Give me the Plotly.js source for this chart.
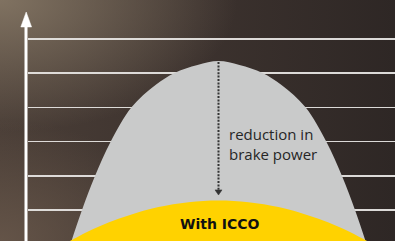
<!DOCTYPE html>
<html><head><meta charset="utf-8">
<script src="https://cdn.plot.ly/plotly-3.0.1.min.js"></script>
<style>
html,body{margin:0;padding:0;background:#3a302c;}
#chart{width:395px;height:241px;
background:
 radial-gradient(ellipse 60% 55% at 0% 0%, rgba(128,114,97,1) 0%, rgba(128,114,97,0) 100%),
 radial-gradient(ellipse 45% 50% at 0% 100%, rgba(100,84,72,1) 0%, rgba(100,84,72,0) 100%),
 linear-gradient(to right, #4a3e37 0%, #3c322e 50%, #2e2725 100%);
}
</style></head><body><div id="chart"></div>
<script>
// Half-widths from the peak and levels in grid units
const grayHalfWidth   = [0, 21, 44, 63, 87, 108, 123.5, 136.5, 147, 153];
const grayLevel       = [5.357, 5.240, 5.006, 4.655, 4.003, 2.988, 1.994, 1.0, 0.094, -0.462];
const yellowHalfWidth = [0, 30, 60, 80, 100, 120, 140, 150, 165];
const yellowLevel     = [1.278, 1.228, 1.088, 0.936, 0.743, 0.509, 0.228, 0.073, -0.170];
const gridTicks = [1, 2, 3, 4, 5, 6];
const labelReduction = 'reduction in<br>brake power';
const labelWith = 'With ICCO';

function mirror(h, v){
  const xs = [], ys = [];
  for (let i = h.length - 1; i >= 0; i--) { xs.push(-h[i]); ys.push(v[i]); }
  for (let i = 1; i < h.length; i++) { xs.push(h[i]); ys.push(v[i]); }
  return {x: xs, y: ys};
}
const g = mirror(grayHalfWidth, grayLevel);
const yv = mirror(yellowHalfWidth, yellowLevel);
const grayPeak = Math.max(...grayLevel);
const yellowPeak = Math.max(...yellowLevel);
const tipY = yellowPeak + 0.16;
const headH = 0.15;

const W = 395, H = 241, M = {l:28, r:0, t:26, b:0};
const pw = W - M.l - M.r, ph = H - M.t - M.b;
const px = x => (x - M.l) / pw;
const py = y => (H - M.b - y) / ph;

const traces = [
  {x: g.x, y: g.y, mode: 'lines', fill: 'toself', fillcolor: '#c9caca',
   line: {color: '#c9caca', width: 0, shape: 'spline', smoothing: 1}, hoverinfo: 'skip'},
  {x: yv.x, y: yv.y, mode: 'lines', fill: 'toself', fillcolor: '#ffd200',
   line: {color: '#ffd200', width: 0, shape: 'spline', smoothing: 1}, hoverinfo: 'skip'},
  {x: [0, 0], y: [grayPeak - 0.03, tipY + headH], mode: 'lines',
   line: {color: '#333333', width: 2, dash: '2px,1.4px'}, hoverinfo: 'skip'},
  {x: [-3.5, 3.5, 0, -3.5], y: [tipY + headH, tipY + headH, tipY, tipY + headH], mode: 'lines',
   fill: 'toself', fillcolor: '#333333', line: {color: '#333333', width: 0.5}, hoverinfo: 'skip'}
];

const layout = {
  width: W, height: H, margin: M,
  paper_bgcolor: 'rgba(0,0,0,0)', plot_bgcolor: 'rgba(0,0,0,0)',
  showlegend: false,
  xaxis: {range: [M.l - 218.5, W - 218.5], showgrid: false, zeroline: false, showticklabels: false, ticks: '', fixedrange: true},
  yaxis: {range: [(244.2 - H) / 34.2, (244.2 - M.t) / 34.2], tickvals: gridTicks, showgrid: true,
          gridcolor: 'rgba(230,228,225,0.95)', gridwidth: 1.5, zeroline: false, showticklabels: false, ticks: '', showline: false},
  shapes: [
    {type: 'line', xref: 'paper', yref: 'paper', x0: px(26), x1: px(26), y0: py(26), y1: py(250),
     line: {color: '#ffffff', width: 3}},
    {type: 'path', xref: 'paper', yref: 'paper',
     path: `M ${px(26.2)} ${py(12)} L ${px(20.8)} ${py(27)} L ${px(31.6)} ${py(27)} Z`,
     fillcolor: '#ffffff', line: {color: '#ffffff', width: 0.5}}
  ],
  annotations: [
    {x: 8.2, y: 2.944, xref: 'x', yref: 'y', text: labelReduction, showarrow: false,
     xanchor: 'left', yanchor: 'middle', align: 'left',
     font: {family: 'Open Sans', size: 15, color: '#262626'}},
    {x: 1.5, y: 0.582, xref: 'x', yref: 'y', text: '<b>' + labelWith + '</b>', showarrow: false,
     xanchor: 'center', yanchor: 'middle',
     font: {family: 'DejaVu Sans', size: 14, color: '#111111'}}
  ]
};
Plotly.newPlot('chart', traces, layout, {displayModeBar: false, staticPlot: true});
</script></body></html>
